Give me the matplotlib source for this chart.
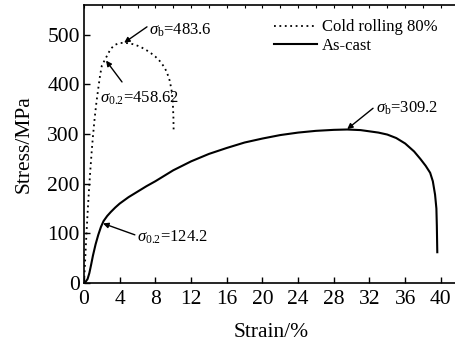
import matplotlib
matplotlib.use("Agg")
import matplotlib.pyplot as plt
import numpy as np

plt.rcParams['font.family'] = ['Liberation Serif', 'DejaVu Serif']
plt.rcParams['mathtext.fontset'] = 'custom'
plt.rcParams['mathtext.rm'] = 'Liberation Serif'
plt.rcParams['mathtext.it'] = 'Liberation Serif:italic'

# Cold rolling 80% curve (strain %, stress MPa)
cold_strain = [0, 0.1, 0.25, 0.4, 0.55, 0.7, 0.85, 1.0, 1.2, 1.4, 1.6, 1.8, 2.0, 2.5, 3.0, 3.5,
               4.0, 4.5, 5.0, 5.5, 6.0, 6.5, 7.0, 7.5, 8.0, 8.5, 9.0, 9.3, 9.6, 9.8, 9.95, 10.02, 10.05]
cold_stress = [0, 35, 90, 140, 185, 225, 262, 295, 333, 365, 392, 418, 438, 455, 472, 480,
               483.5, 483.6, 483, 481, 478, 474, 469, 463, 456, 447, 435, 424, 408, 390, 365, 335, 304]

# As-cast curve
cast_strain = [0, 0.2, 0.4, 0.6, 0.8, 1.0, 1.3, 1.6, 1.9, 2.2, 2.6, 3.0, 3.5, 4.0, 5, 6, 7, 8, 9,
               10, 12, 14, 16, 18, 20, 22, 24, 26, 28, 29.5, 31, 33, 34, 35, 36, 37, 37.7, 38.3,
               38.8, 39.1, 39.35, 39.5, 39.55, 39.6]
cast_stress = [0, 3, 8, 20, 37, 55, 78, 97, 113, 125, 135, 143, 152, 160, 173, 184, 195, 205, 216,
               227, 245, 260, 272, 283, 291, 298, 303, 306.5, 308.5, 309.2, 308, 303, 299, 292, 281, 265, 250, 236,
               222, 205, 178, 150, 115, 62]

xticks = [0, 4, 8, 12, 16, 20, 24, 28, 32, 36, 40]
yticks = [0, 100, 200, 300, 400, 500]

fig = plt.figure(figsize=(4.56, 3.45), dpi=100)
ax = fig.add_axes([84/456, 62/345, (458.7-84)/456, 278/345])

ax.plot(cold_strain, cold_stress, color='black', linestyle=(0, (1, 2)), lw=1.3, label='Cold rolling 80%')
ax.plot(cast_strain, cast_stress, color='black', linestyle='-', lw=1.5, label='As-cast')

ax.set_xlim(0, 42)
ax.set_ylim(0, 560)
ax.set_xticks(xticks)
ax.set_yticks(yticks)
ax.tick_params(axis='both', direction='in', length=4, width=1, labelsize=15.5)
ax.tick_params(axis='x', top=False, pad=5)
ax.tick_params(axis='y', pad=3)

sec = ax.secondary_xaxis('top')
sec.set_xticks(np.arange(0, 43, 2))
sec.tick_params(direction='in', length=2, labeltop=False)
sec.spines['top'].set_visible(False)

for s in ax.spines.values():
    s.set_linewidth(1.2)

ax.set_xlabel('Strain/%', fontsize=15.5, labelpad=10)
ax.set_ylabel('Stress/MPa', fontsize=15.5, labelpad=10)

ap = dict(arrowstyle='-|>', color='black', lw=1.0, mutation_scale=8, shrinkA=0, shrinkB=0)

def note(text, tip, tail, pos):
    ax.annotate('', xy=tip, xytext=tail, arrowprops=ap)
    ax.text(pos[0], pos[1], text, fontsize=12, va='center', ha='left')

note(r'$\sigma_{\rm b}$=483.6', (4.5, 484), (7.06, 516), (7.3, 510))
note(r'$\sigma_{0.2}$=458.62', (2.47, 448), (4.26, 405), (1.8, 372))
note(r'$\sigma_{\rm b}$=309.2', (29.5, 310), (32.4, 352), (32.7, 352))
note(r'$\sigma_{0.2}$=124.2', (2.13, 120), (5.7, 97), (5.94, 92))

leg = ax.legend(loc='upper right', bbox_to_anchor=(0.975, 0.99), frameon=False,
                fontsize=12, handlelength=2.6, handletextpad=0.3, labelspacing=0.15,
                borderaxespad=0.3)

fig.savefig('out.png', dpi=100)
